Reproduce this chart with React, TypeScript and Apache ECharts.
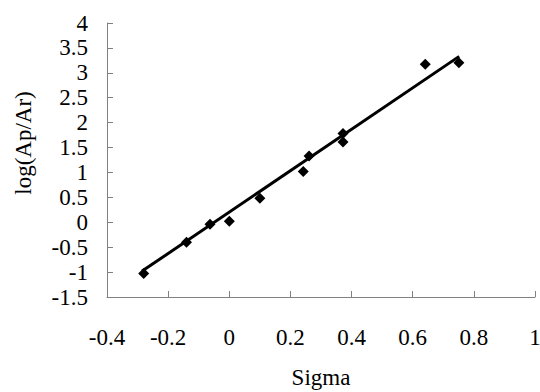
import React, { useEffect, useRef } from "react";
import * as echarts from "echarts";

const SIGMA = [-0.28, -0.14, -0.063, 0.0, 0.1, 0.242, 0.261, 0.372, 0.372, 0.641, 0.751];
const LOG_RATIO = [-1.03, -0.4, -0.04, 0.02, 0.48, 1.02, 1.33, 1.61, 1.78, 3.17, 3.2];
const FIT_X = [-0.285, 0.752];
const FIT_Y = [-0.98, 3.33];
const X_NAME = "Sigma";
const Y_NAME = "log(Ap/Ar)";

const FONT = "Liberation Serif";

export default function App() {
  const ref = useRef<HTMLDivElement>(null);
  useEffect(() => {
    if (!ref.current) return;
    const chart = echarts.init(ref.current, undefined, { renderer: "svg" });
    const points = SIGMA.map((x, i) => [x, LOG_RATIO[i]]);
    const fit = FIT_X.map((x, i) => [x, FIT_Y[i]]);
    chart.setOption({
      animation: false,
      backgroundColor: "#ffffff",
      textStyle: { fontFamily: FONT },
      grid: { left: 107, right: 5, top: 23, bottom: 95, containLabel: false, outerBoundsMode: "none" },
      xAxis: {
        type: "value",
        min: -0.4,
        max: 1,
        interval: 0.2,
        name: X_NAME,
        nameLocation: "middle",
        nameGap: 69,
        nameTextStyle: { fontFamily: FONT, fontSize: 23, color: "#000" },
        axisLine: { onZero: false, lineStyle: { color: "#808080", width: 1 } },
        axisTick: { inside: true, length: 6, lineStyle: { color: "#808080" } },
        axisLabel: {
          fontFamily: FONT,
          fontSize: 23,
          color: "#000",
          margin: 29,
          formatter: (v: number) => String(Math.round(v * 10) / 10),
        },
        splitLine: { show: false },
      },
      yAxis: {
        type: "value",
        min: -1.5,
        max: 4,
        interval: 0.5,
        name: Y_NAME,
        nameLocation: "middle",
        nameGap: 72,
        nameRotate: 90,
        nameTextStyle: { fontFamily: FONT, fontSize: 23, color: "#000", padding: [0, 0, 0, 34] },
        axisLine: { show: true, onZero: false, lineStyle: { color: "#808080", width: 1 } },
        axisTick: { show: true, inside: true, length: 6, lineStyle: { color: "#808080" } },
        axisLabel: {
          fontFamily: FONT,
          fontSize: 23,
          color: "#000",
          margin: 19,
          formatter: (v: number) => String(Math.round(v * 10) / 10),
        },
        splitLine: { show: false },
      },
      series: [
        {
          type: "line",
          data: fit,
          showSymbol: false,
          symbol: "none",
          lineStyle: { color: "#000", width: 3 },
          z: 2,
        },
        {
          type: "scatter",
          data: points,
          symbol: "diamond",
          symbolSize: [11, 11],
          itemStyle: { color: "#000", opacity: 1 },
          z: 3,
        },
      ],
    });
    return () => chart.dispose();
  }, []);
  return <div ref={ref} style={{ width: 540, height: 392, position: "absolute", left: 0, top: 0 }} />;
}
